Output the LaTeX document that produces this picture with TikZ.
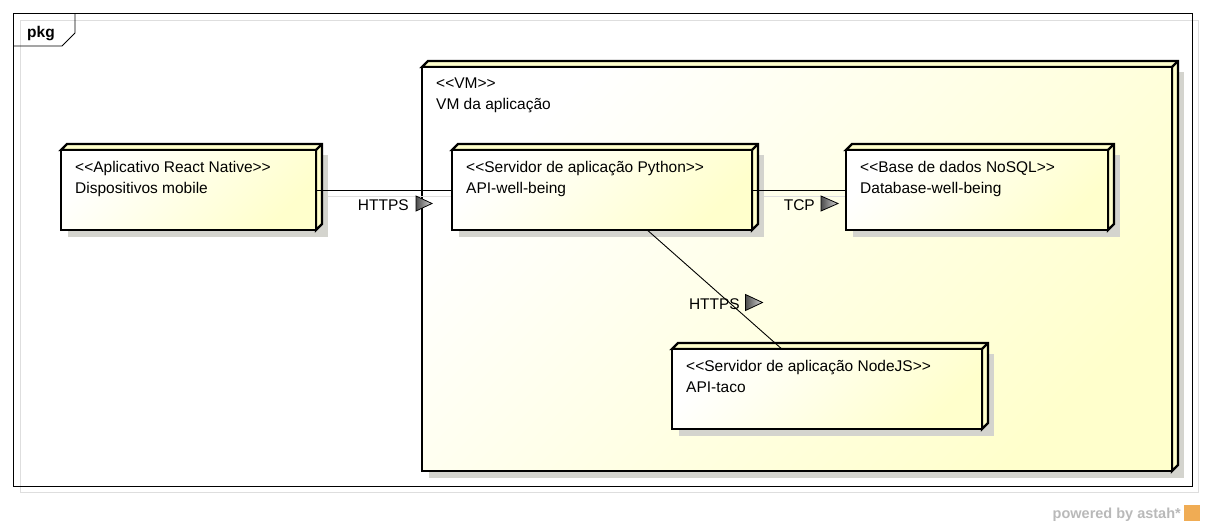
\documentclass[tikz,border=0pt]{standalone}
\usepackage{fontspec}
\newfontfamily\umlfont{Liberation Sans}
\usetikzlibrary{positioning, calc}

\definecolor{nodeyellow}{RGB}{255,255,204}
\definecolor{shadowgray}{RGB}{212,212,206}
\definecolor{framegray}{RGB}{222,222,222}
\definecolor{astahgray}{RGB}{185,185,185}
\definecolor{astahorange}{RGB}{240,172,84}

\pgfdeclarelayer{back}
\pgfdeclarelayer{connback}
\pgfsetlayers{back,connback,main}

\tikzset{
  umlnode/.style={draw, line width=2.4pt, outer sep=0pt, inner sep=0pt, left color=white, right color=nodeyellow, shading angle=45},
  nodeside/.style={draw, line width=2.4pt, fill=nodeyellow, line join=miter},
  nodeshadow/.style={fill=shadowgray},
  nodetext/.style={anchor=north west, inner sep=0pt, align=left, font=\umlfont\fontsize{15.5}{21}\selectfont},
  conn/.style={line width=0.9pt},
  connshadow/.style={line width=1pt, draw=framegray},
  connlabel/.style={anchor=base east, inner sep=0pt, font=\umlfont\fontsize{15.5}{21}\selectfont},
  dirtri/.style={draw, line width=0.8pt, left color=black!70, right color=black!15, line join=miter}
}

% name, x, y, width, height, text
\newcommand{\deploynode}[6]{%
  \fill[nodeshadow] (#2+7,#3+5) rectangle (#2+#4+12,#3+#5+7);
  \draw[nodeside] (#2,#3) -- ++(6,-6) -- ++(#4,0) -- ++(0,#5) -- ++(-6,6) -- ++(0,-#5) -- cycle;
  \node[umlnode, minimum width=#4pt, minimum height=#5pt, anchor=north west] (#1) at (#2,#3) {};
  \draw[nodeside, fill=none] (#1.north east) -- ++(6,-6);
  \node[nodetext] at ([shift={(14,11)}]#1.north west) {#6};
}

\begin{document}
\begin{tikzpicture}[x=1pt, y=-1pt]
  \useasboundingbox (0,0) rectangle (1205,525);

  % package frame
  \begin{pgfonlayer}{back}
    \draw[framegray, line width=1pt] (20,20) rectangle (1198,492);
    \draw[line width=1pt] (13,13) rectangle (1192,486);
    \draw[line width=0.8pt] (13,46) -- (62,46) -- (75,33) -- (75,13);
    \node[anchor=base west, inner sep=0pt, font=\umlfont\bfseries\fontsize{15.5}{18}\selectfont] (pkg) at (27,37) {pkg};
    \deploynode{vm}{422}{67}{750}{404}{<<VM>>\\VM da aplicação}
  \end{pgfonlayer}

  % nodes
  \deploynode{mobile}{61}{150}{255}{80}{<<Aplicativo React Native>>\\Dispositivos mobile}
  \deploynode{python}{452}{150}{300}{80}{<<Servidor de aplicação Python>>\\API-well-being}
  \deploynode{nosql}{846}{150}{262}{80}{<<Base de dados NoSQL>>\\Database-well-being}
  \deploynode{nodejs}{672}{349}{310}{80}{<<Servidor de aplicação NodeJS>>\\API-taco}

  % connectors
  \begin{pgfonlayer}{connback}
    \draw[connshadow] ([shift={(6,6)}]mobile.east) -- ([shift={(8,6)}]python.west);
    \draw[connshadow] ([shift={(6,6)}]python.east) -- ([shift={(8,6)}]nosql.west);
  \end{pgfonlayer}
  \draw[conn] (mobile.east) -- (python.west) coordinate[pos=.5] (c1);
  \draw[conn] (python.east) -- (nosql.west) coordinate[pos=.5] (c2);
  \draw[conn] (python) -- (nodejs) coordinate[pos=.5] (c3);

  \node[connlabel] (l1) at ([shift={(25,20)}]c1) {HTTPS};
  \draw[dirtri] ([shift={(32,6)}]c1) -- ++(16,7.5) -- ++(-16,7.5) -- cycle;
  \node[connlabel] (l2) at ([shift={(16,20)}]c2) {TCP};
  \draw[dirtri] ([shift={(22,6)}]c2) -- ++(17,7.5) -- ++(-17,7.5) -- cycle;
  \node[connlabel] (l3) at ([shift={(25.5,20)}]c3) {HTTPS};
  \draw[dirtri] ([shift={(31,5)}]c3) -- ++(17,8) -- ++(-17,8) -- cycle;

  % footer
  \node[anchor=base east, inner sep=0pt, text=astahgray, font=\umlfont\bfseries\fontsize{14.5}{16}\selectfont] (astah) at (1181,518) {powered by astah*};
  \fill[astahorange] (1184,505) rectangle (1200,521);
\end{tikzpicture}
\end{document}
